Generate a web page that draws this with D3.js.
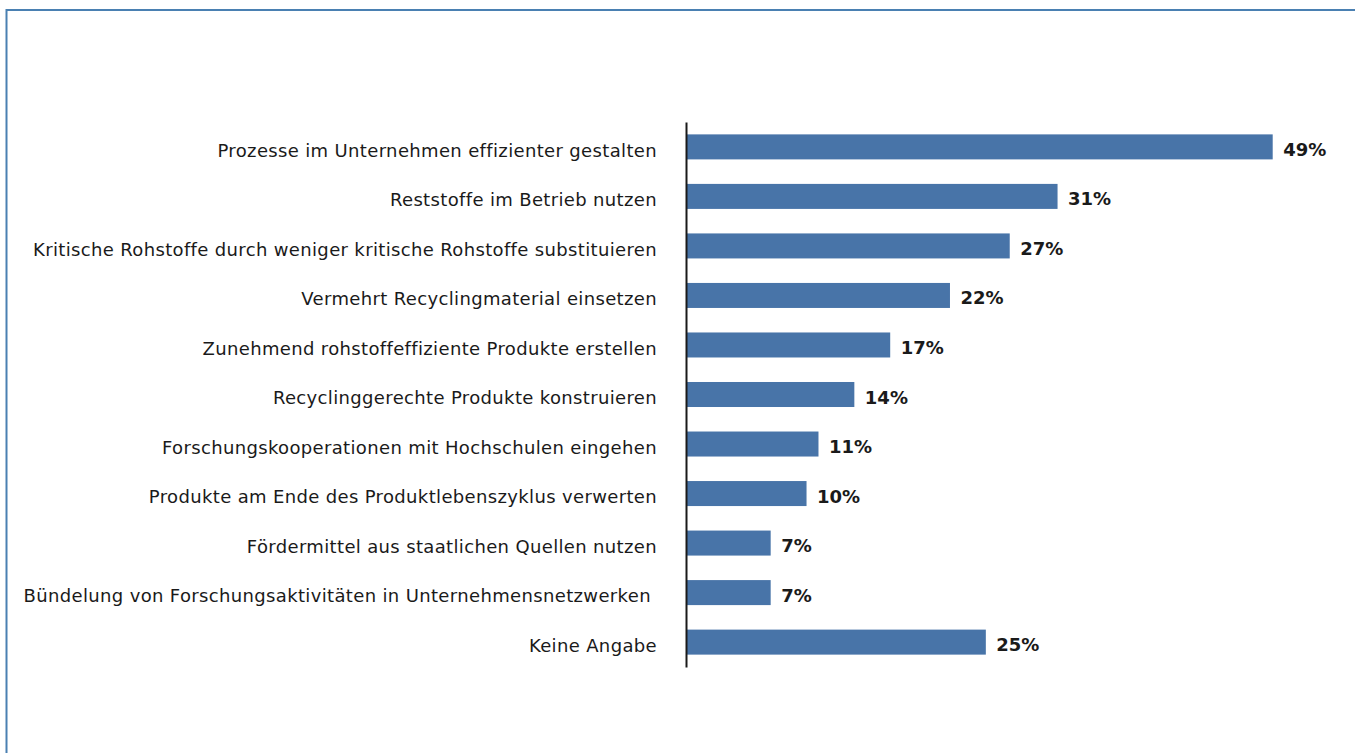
<!DOCTYPE html>
<html>
<head>
<meta charset="utf-8">
<script src="https://cdn.jsdelivr.net/npm/d3@7"></script>
<style>
  html, body { margin: 0; padding: 0; background: #fff; }
  svg { display: block; }
  .tick text { white-space: pre; }
</style>
</head>
<body>
<svg id="chart" width="1355" height="753"></svg>
<script>
const categories = [
  "Prozesse im Unternehmen effizienter gestalten",
  "Reststoffe im Betrieb nutzen",
  "Kritische Rohstoffe durch weniger kritische Rohstoffe substituieren",
  "Vermehrt Recyclingmaterial einsetzen",
  "Zunehmend rohstoffeffiziente Produkte erstellen",
  "Recyclinggerechte Produkte konstruieren",
  "Forschungskooperationen mit Hochschulen eingehen",
  "Produkte am Ende des Produktlebenszyklus verwerten",
  "Fördermittel aus staatlichen Quellen nutzen",
  "Bündelung von Forschungsaktivitäten in Unternehmensnetzwerken ",
  "Keine Angabe"
];
const values = [49, 31, 27, 22, 17, 14, 11, 10, 7, 7, 25];

const svg = d3.select("#chart");
const W = 1355, H = 753;

// outer frame (top and left edges visible)
svg.append("line").attr("x1", 6.5).attr("x2", W).attr("y1", 10).attr("y2", 10)
  .attr("stroke", "#4a80b2").attr("stroke-width", 2);
svg.append("line").attr("x1", 6.5).attr("x2", 6.5).attr("y1", 9).attr("y2", H)
  .attr("stroke", "#4a80b2").attr("stroke-width", 2);

const x0 = 687;
const x = d3.scaleLinear().domain([0, 49]).range([x0, 1272.7]);
const y = d3.scaleBand().domain(categories).range([122, 667]).paddingInner(0.495).paddingOuter(0.25);

const g = svg.append("g");

g.selectAll("rect.bar").data(values).join("rect")
  .attr("class", "bar")
  .attr("x", x(0))
  .attr("y", (d, i) => y(categories[i]))
  .attr("width", d => x(d) - x(0))
  .attr("height", y.bandwidth())
  .attr("fill", "#4874a8");

g.selectAll("text.val").data(values).join("text")
  .attr("class", "val")
  .attr("x", d => x(d) + 10.5)
  .attr("y", (d, i) => y(categories[i]) + y.bandwidth() / 2)
  .attr("dy", "0.5em")
  .attr("font-family", "'DejaVu Sans', sans-serif")
  .attr("font-weight", "bold")
  .attr("font-size", 18)
  .attr("fill", "#1a1a1a")
  .text(d => d + "%");

// category axis
const axis = d3.axisLeft(y).tickSize(0).tickPadding(29);
const ax = svg.append("g").attr("transform", `translate(${x0 - 1},0)`).call(axis);
ax.select(".domain").attr("stroke", "#1a1a1a").attr("stroke-width", 2);
ax.selectAll(".tick text")
  .attr("font-family", "'DejaVu Sans', sans-serif")
  .attr("font-size", 18)
  .attr("letter-spacing", 0.35)
  .attr("dy", "0.55em")
  .attr("fill", "#1a1a1a");
</script>
</body>
</html>
